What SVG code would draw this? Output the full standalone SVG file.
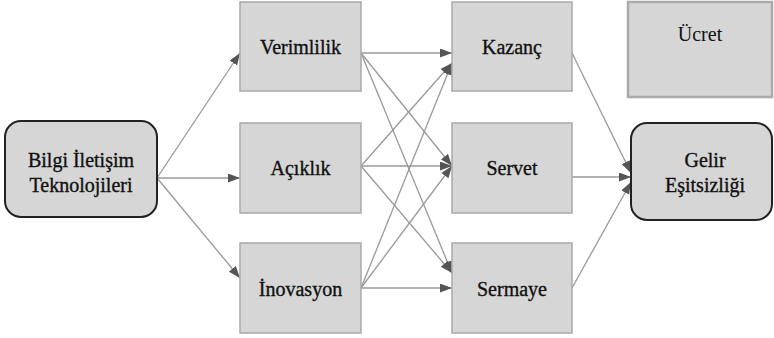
<svg xmlns="http://www.w3.org/2000/svg" width="774" height="338" viewBox="0 0 774 338">
<style>
.box{fill:#d6d6d6;stroke:#a9a9a9;stroke-width:1.5}
.rbox{fill:#d6d6d6;stroke:#222;stroke-width:2}
.ubox{fill:#d6d6d6;stroke:#aaaaaa;stroke-width:2.5}
.lbl{font-family:"Liberation Serif",Tinos,"Times New Roman",Times,"Noto Serif","DejaVu Serif",FreeSerif,serif;font-size:20px;fill:#111;text-anchor:middle}
.b{stroke:#111;stroke-width:0.35}
.edge{stroke:#999;stroke-width:1.3;fill:none;marker-end:url(#ah)}
</style>
<defs>
<marker id="ah" markerUnits="userSpaceOnUse" markerWidth="13" markerHeight="10" refX="12" refY="4.5" orient="auto">
<path d="M0,0 L12,4.5 L0,9 z" fill="#555"/>
</marker>
</defs>
<rect width="774" height="338" fill="#fff"/>
<g id="connectors">
<line class="edge" x1="157" y1="178" x2="240" y2="53"/>
<line class="edge" x1="157" y1="178" x2="240" y2="178"/>
<line class="edge" x1="157" y1="178" x2="240" y2="278"/>
<line class="edge" x1="361" y1="53" x2="452" y2="53"/>
<line class="edge" x1="361" y1="53" x2="452" y2="166"/>
<line class="edge" x1="361" y1="53" x2="452" y2="273"/>
<line class="edge" x1="361" y1="166" x2="452" y2="63"/>
<line class="edge" x1="361" y1="166" x2="452" y2="166"/>
<line class="edge" x1="361" y1="166" x2="452" y2="273"/>
<line class="edge" x1="361" y1="288" x2="452" y2="63"/>
<line class="edge" x1="361" y1="288" x2="452" y2="166"/>
<line class="edge" x1="361" y1="288" x2="452" y2="288"/>
<line class="edge" x1="572" y1="53" x2="631" y2="173"/>
<line class="edge" x1="572" y1="177" x2="631" y2="177"/>
<line class="edge" x1="572" y1="288" x2="631" y2="182"/>
</g>
<g id="bit">
<rect class="rbox" x="5" y="121" width="152" height="96" rx="16"/>
<text class="lbl b" x="81" y="167">Bilgi İletişim</text>
<text class="lbl b" x="81" y="192">Teknolojileri</text>
</g>
<g id="verimlilik">
<rect class="box" x="240" y="2" width="121" height="89"/>
<text class="lbl b" x="300.5" y="54">Verimlilik</text>
</g>
<g id="aciklik">
<rect class="box" x="240" y="123" width="121" height="90"/>
<text class="lbl b" x="300.5" y="175">Açıklık</text>
</g>
<g id="inovasyon">
<rect class="box" x="240" y="243" width="121" height="90"/>
<text class="lbl b" x="300.5" y="296">İnovasyon</text>
</g>
<g id="kazanc">
<rect class="box" x="452" y="2" width="120" height="89"/>
<text class="lbl b" x="512" y="54">Kazanç</text>
</g>
<g id="servet">
<rect class="box" x="452" y="123" width="120" height="90"/>
<text class="lbl b" x="512" y="175">Servet</text>
</g>
<g id="sermaye">
<rect class="box" x="452" y="243" width="120" height="90"/>
<text class="lbl b" x="512" y="296">Sermaye</text>
</g>
<g id="ucret">
<rect class="ubox" x="628" y="2" width="144" height="95"/>
<text class="lbl" x="700" y="41">Ücret</text>
</g>
<g id="gelir">
<rect class="rbox" x="631" y="123" width="141" height="97" rx="16"/>
<text class="lbl b" x="705" y="167">Gelir</text>
<text class="lbl b" x="705" y="192">Eşitsizliği</text>
</g>
</svg>
